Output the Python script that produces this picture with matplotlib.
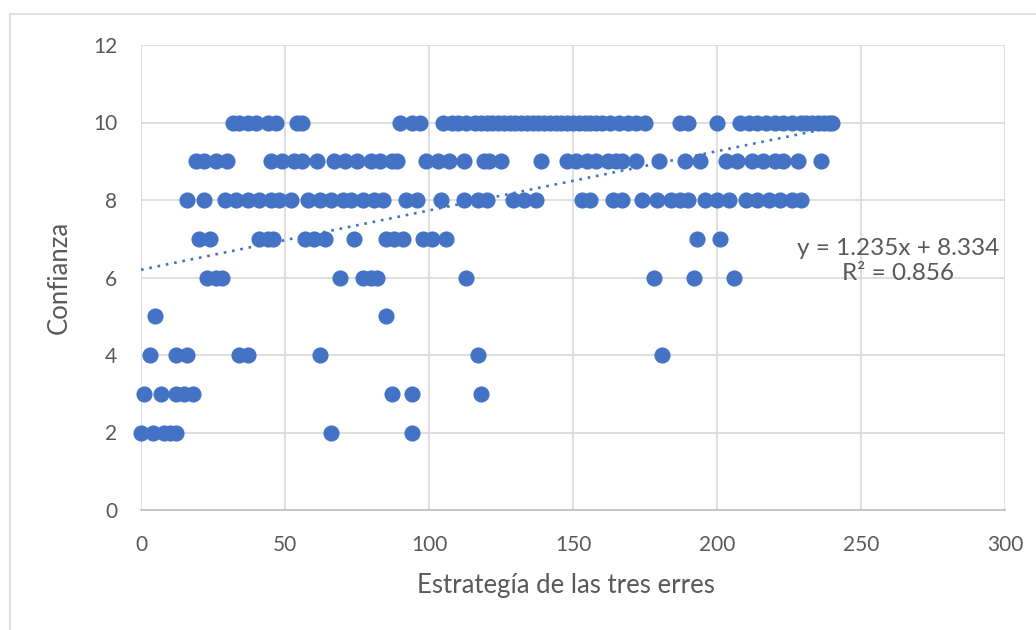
import numpy as np
import matplotlib.pyplot as plt
from matplotlib.patches import Rectangle

# Confianza vs. Estrategía de las tres erres, grouped by confidence score
x10 = [32, 34, 37, 40, 44, 47, 54, 56, 90, 94, 97, 105, 108, 110, 113, 116,
       118, 120, 122, 124, 126, 128, 130, 132, 134, 136, 138, 140, 142, 144,
       146, 148, 150, 152, 154, 156, 158, 160, 163, 166, 169, 172, 175,
       187, 190, 200, 208, 211, 214, 217, 220, 223, 226, 229, 231, 233, 235,
       237, 239, 240]
x9 = [19, 22, 26, 30, 45, 49, 53, 56, 61, 67, 71, 75, 80, 83, 87, 89, 99,
      103, 107, 112, 119, 121, 125, 139, 148, 151, 155, 158, 162, 165, 167,
      172, 180, 189, 194, 203, 207, 212, 216, 220, 223, 228, 236]
x8 = [16, 22, 29, 33, 37, 41, 45, 48, 52, 58, 62, 66, 70, 73, 77, 81, 84,
      92, 96, 104, 112, 117, 120, 129, 133, 137, 153, 156, 164, 167, 174,
      179, 184, 187, 190, 196, 200, 204, 210, 214, 218, 222, 226, 229]
x7 = [20, 24, 41, 44, 46, 57, 60, 64, 74, 85, 88, 91, 98, 101, 106, 193, 201]
x6 = [23, 26, 28, 69, 77, 80, 82, 113, 178, 192, 206]
x5 = [5, 85]
x4 = [3, 12, 16, 34, 37, 62, 117, 181]
x3 = [1, 7, 12, 15, 18, 87, 94, 118]
x2 = [0, 4, 8, 10, 12, 66, 94]

rows = {10: x10, 9: x9, 8: x8, 7: x7, 6: x6, 5: x5, 4: x4, 3: x3, 2: x2}
x = np.concatenate([np.array(v, float) for v in rows.values()])
y = np.concatenate([np.full(len(v), k, float) for k, v in rows.items()])

# linear trend line, as drawn on the chart
trend_slope = 0.0153
trend_intercept = 6.2
eq_text = "y = 1.235x + 8.334\nR² = 0.856"

plt.rcParams['font.family'] = ['Lato', 'DejaVu Sans']
grey = '#595959'

fig = plt.figure(figsize=(10.36, 6.3), dpi=100)
fig.patches.append(Rectangle((10 / 1036, -0.1), 1.2, 1.1 - 14 / 630,
                             transform=fig.transFigure, fill=False,
                             edgecolor='#d9d9d9', lw=1.2))
ax = fig.add_axes([141 / 1036, 1 - 510 / 630, 864 / 1036, 465 / 630])

ax.scatter(x, y, s=135, color='#4472C4', zorder=3, linewidths=0,
           clip_on=False)

tx = np.linspace(0, x.max(), 50)
ax.plot(tx, trend_slope * tx + trend_intercept, ls=(0, (1, 2.2)), lw=1.9,
        color='#4472C4', zorder=4)
ax.text(263, 6.42, eq_text, ha='center', va='center', fontsize=17.5,
        color=grey, linespacing=1.25)

ax.set_xlim(0, 300)
ax.set_ylim(0, 12)
ax.set_xticks(range(0, 301, 50))
ax.set_yticks(range(0, 13, 2))
ax.grid(True, color='#d9d9d9', lw=1.2)
ax.set_axisbelow(True)
for s in ['top', 'right', 'left']:
    ax.spines[s].set_visible(False)
ax.spines['bottom'].set_color('#bfbfbf')
ax.spines['bottom'].set_linewidth(1.2)
ax.tick_params(length=0, labelsize=15, labelcolor=grey)
ax.tick_params(axis='x', pad=18)
ax.tick_params(axis='y', pad=17)
ax.set_xlabel('Estrategía de las tres erres', fontsize=18.5, color=grey)
ax.set_ylabel('Confianza', fontsize=18.5, color=grey)
ax.xaxis.set_label_coords(0.492, -0.135)
ax.yaxis.set_label_coords(-0.08, 0.5)

fig.savefig('out.png', dpi=100)
